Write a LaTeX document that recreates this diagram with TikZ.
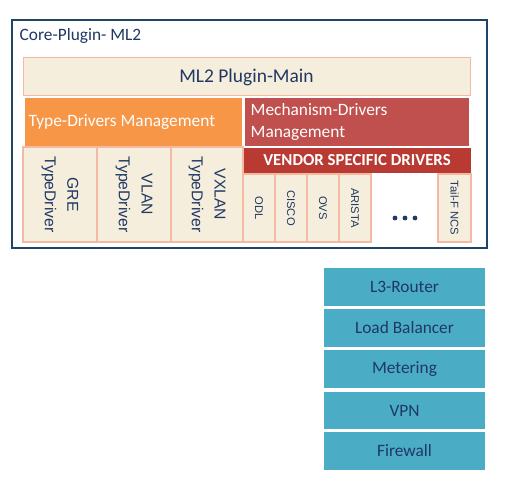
\documentclass[tikz,border=0pt]{standalone}
\usepackage{fontspec}
\setmainfont{Carlito}
\newfontfamily\arialfont{Liberation Sans}
\usepackage{xcolor}
\usetikzlibrary{positioning}

\definecolor{frameblue}{HTML}{1F4566}
\definecolor{creamfill}{HTML}{F6EEDC}
\definecolor{salmon}{HTML}{F4B9A3}
\definecolor{typeorange}{HTML}{F79646}
\definecolor{mechred}{HTML}{C0504D}
\definecolor{vendorred}{HTML}{B83A33}
\definecolor{navytext}{HTML}{1F3864}
\definecolor{servcyan}{HTML}{4BACC6}

\begin{document}
\begin{tikzpicture}[x=0.75pt, y=-0.75pt,
    creambox/.style={draw=salmon, fill=creamfill, line width=0.75pt},
    colbox/.style={draw=salmon, fill=creamfill, line width=1pt},
    servbox/.style={fill=servcyan},
    coltext/.style={text=navytext, rotate=-90, align=center,
        font=\arialfont\fontsize{11.8}{17}\selectfont},
    vendtext/.style={text=navytext, rotate=-90,
        font=\arialfont\fontsize{8.4}{10}\selectfont},
    servtext/.style={text=navytext, font=\fontsize{13}{15}\selectfont},
    whitetext/.style={text=white, font=\fontsize{13}{16}\selectfont}]
	\useasboundingbox (0,0) rectangle (520,481);

	%% Core plugin frame
	\draw[frameblue, line width=1.5pt, fill=white] (12,20) rectangle (487,248);
	\node[anchor=west, text=navytext, font=\fontsize{13}{15}\selectfont] (core) at (15,36) {Core-Plugin- ML2};

	%% ML2 main
	\draw[creambox] (23,58) rectangle (470,96)
		node[midway, text=navytext, font=\fontsize{14.6}{17}\selectfont] (main) {ML2 Plugin-Main};

	%% Type drivers
	\path[fill=typeorange] (25,98) rectangle (242,146);
	\node[whitetext, anchor=west] (typemgmt) at (24,122) {Type-Drivers Management};

	%% Mechanism drivers
	\path[fill=mechred] (245,98) rectangle (469,146);
	\node[whitetext, anchor=west, align=left] (mechmgmt) at (246,122) {Mechanism-Drivers\\Management};

	%% Vendor drivers
	\path[fill=vendorred] (243,148) rectangle (471,173);
	\node[text=white, font=\bfseries\fontsize{12.6}{15}\selectfont] (vendor) at (357,160.5) {VENDOR SPECIFIC DRIVERS};

	%% Type driver columns
	\draw[colbox] (23,147) rectangle (97,242) node[midway, coltext] (gre) {GRE\\TypeDriver};
	\draw[colbox] (97,147) rectangle (171,242) node[midway, coltext] (vlan) {VLAN\\TypeDriver};
	\draw[colbox] (171,147) rectangle (243,242) node[midway, coltext] (vxlan) {VXLAN\\TypeDriver};

	%% Vendor columns
	\draw[colbox] (243,174) rectangle (275,242) node[midway, vendtext] (odl) {ODL};
	\draw[colbox] (275,174) rectangle (307,242) node[midway, vendtext] (cisco) {CISCO};
	\draw[colbox] (307,174) rectangle (339,242) node[midway, vendtext] (ovs) {OVS};
	\draw[colbox] (339,174) rectangle (371,242) node[midway, vendtext] (arista) {ARISTA};
	\draw[colbox] (438,174) rectangle (471,242) node[midway, vendtext] (tailf) {Tail-F NCS};

	%% dots
	\foreach \dx in {395,405,415}
		\fill[navytext] (\dx,218) circle [radius=2.4];

	%% Service plugins
	\path[servbox] (324,268) rectangle (485,306) node[midway, servtext] (l3) {L3-Router};
	\path[servbox] (324,309) rectangle (485,347) node[midway, servtext] (lb) {Load Balancer};
	\path[servbox] (324,350) rectangle (485,388) node[midway, servtext] (meter) {Metering};
	\path[servbox] (324,392) rectangle (485,429) node[midway, servtext] (vpn) {VPN};
	\path[servbox] (324,432) rectangle (485,470) node[midway, servtext] (fw) {Firewall};
\end{tikzpicture}
\end{document}
